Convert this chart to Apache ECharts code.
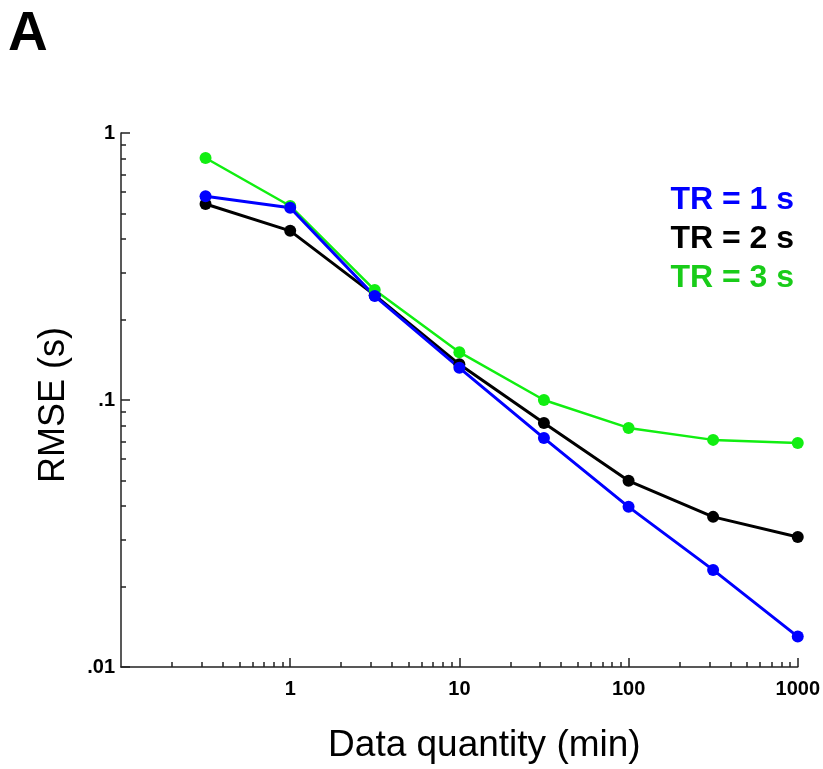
<!DOCTYPE html>
<html>
<head>
<meta charset="utf-8">
<script src="https://cdn.jsdelivr.net/npm/echarts@6/dist/echarts.min.js"></script>
<style>html,body{margin:0;padding:0;background:#fff;}#c{width:823px;height:769px;}</style>
</head>
<body>
<div id="c"></div>
<script>
var dataMinutes = [0.316, 1, 3.16, 10, 31.6, 100, 316, 1000];
var rmseTR1 = [0.58, 0.525, 0.245, 0.132, 0.072, 0.0398, 0.0231, 0.0130];
var rmseTR2 = [0.542, 0.43, 0.247, 0.136, 0.082, 0.0498, 0.0365, 0.0307];
var rmseTR3 = [0.806, 0.533, 0.258, 0.151, 0.100, 0.0786, 0.0709, 0.0690];
var seriesNames = ['TR = 1 s', 'TR = 2 s', 'TR = 3 s'];
var xMajorTicks = [1, 10, 100, 1000];
var yMajorTicks = [0.01, 0.1, 1];
var yTickLabels = {'0.01': '.01', '0.1': '.1', '1': '1'};

function minorTicks(decades) {
  var out = [];
  decades.forEach(function (d) { for (var k = 2; k <= 9; k++) out.push(+(k * d).toPrecision(3)); });
  return out;
}
var xMinorTicks = minorTicks([0.1, 1, 10, 100]);
var yMinorTicks = minorTicks([0.01, 0.1]);

function pairs(ys) { return dataMinutes.map(function (x, i) { return [x, ys[i]]; }); }

var font = 'Liberation Sans, Arial, Helvetica, sans-serif';
var axisColor = '#222';
var chart = echarts.init(document.getElementById('c'), null, {renderer: 'canvas'});
var option = {
  animation: false,
  backgroundColor: '#fff',
  title: {text: 'A', left: 3, top: 2, textStyle: {fontSize: 55, fontWeight: 'bold', color: '#000', fontFamily: font}},
  grid: {left: 121, right: 25, top: 133, bottom: 102, containLabel: false},
  legend: {
    orient: 'vertical', right: 19, top: 179, align: 'right', icon: 'none', itemWidth: 0, itemGap: 7,
    textStyle: {fontSize: 32, fontWeight: 'bold', fontFamily: font},
    data: [
      {name: seriesNames[0], textStyle: {color: '#0000ff'}},
      {name: seriesNames[1], textStyle: {color: '#000000'}},
      {name: seriesNames[2], textStyle: {color: '#19cc19'}}
    ]
  },
  xAxis: [{
    type: 'log', logBase: 10, min: 0.1, max: 1000, position: 'bottom',
    axisLine: {lineStyle: {color: axisColor, width: 1.5}},
    axisTick: {inside: true, length: 9, customValues: xMajorTicks, lineStyle: {color: axisColor, width: 1.5}},
    axisLabel: {customValues: xMajorTicks, fontSize: 20, fontWeight: 'bold', color: '#000', fontFamily: font, margin: 12,
      formatter: function (v) { return String(Math.round(v)); }},
    splitLine: {show: false},
    name: 'Data quantity (min)', nameLocation: 'middle', nameGap: 60,
    nameTextStyle: {fontSize: 37, color: '#000', fontFamily: font, padding: [0, 0, 0, 50]}
  }, {
    type: 'log', logBase: 10, min: 0.1, max: 1000, position: 'bottom', offset: 0,
    axisLine: {show: false},
    axisTick: {inside: true, length: 5, customValues: xMinorTicks, lineStyle: {color: axisColor, width: 1.5}},
    axisLabel: {show: false},
    splitLine: {show: false}
  }],
  yAxis: [{
    type: 'log', logBase: 10, min: 0.01, max: 1, position: 'left',
    axisLine: {lineStyle: {color: axisColor, width: 1.5}},
    axisTick: {inside: true, length: 9, customValues: yMajorTicks, lineStyle: {color: axisColor, width: 1.5}},
    axisLabel: {customValues: yMajorTicks, fontSize: 20, fontWeight: 'bold', color: '#000', fontFamily: font, margin: 6,
      formatter: function (v) { var k = String(+v.toPrecision(3)); return yTickLabels[k] || k; }},
    splitLine: {show: false},
    name: 'RMSE (s)', nameLocation: 'middle', nameGap: 49, nameRotate: 90,
    nameTextStyle: {fontSize: 36, color: '#000', fontFamily: font, padding: [0, 10, 0, 0]}
  }, {
    type: 'log', logBase: 10, min: 0.01, max: 1, position: 'left', offset: 0,
    axisLine: {show: false},
    axisTick: {inside: true, length: 5, customValues: yMinorTicks, lineStyle: {color: axisColor, width: 1.5}},
    axisLabel: {show: false},
    splitLine: {show: false}
  }],
  series: [
    {name: seriesNames[1], type: 'line', data: pairs(rmseTR2), symbol: 'circle', symbolSize: 12,
      itemStyle: {color: '#000000'}, lineStyle: {color: '#000000', width: 3}},
    {name: seriesNames[2], type: 'line', data: pairs(rmseTR3), symbol: 'circle', symbolSize: 12,
      itemStyle: {color: '#11ee11'}, lineStyle: {color: '#11ee11', width: 2.5}},
    {name: seriesNames[0], type: 'line', data: pairs(rmseTR1), symbol: 'circle', symbolSize: 12,
      itemStyle: {color: '#0000ff'}, lineStyle: {color: '#0000ff', width: 3}}
  ]
};
chart.setOption(option);
</script>
</body>
</html>
